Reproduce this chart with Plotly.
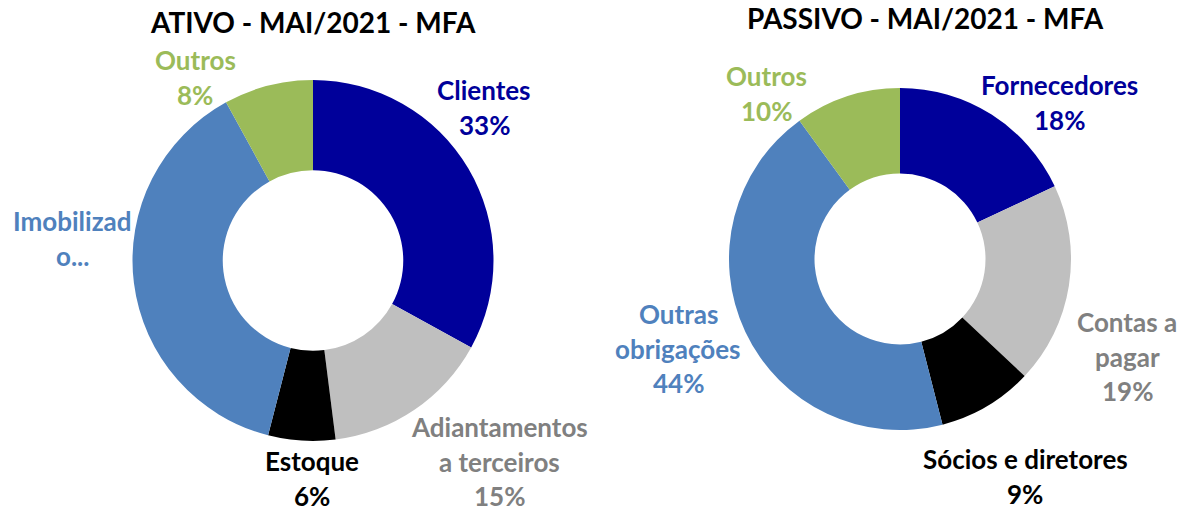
import plotly.graph_objects as go

# ---- data ----
ativo_labels = ["Clientes", "Adiantamentos a terceiros", "Estoque", "Imobilizado", "Outros"]
ativo_values = [33, 15, 6, 38, 8]
ativo_text = [["Clientes", "33%"], ["Adiantamentos", "a terceiros", "15%"], ["Estoque", "6%"],
              ["Imobilizad", "o..."], ["Outros", "8%"]]

passivo_labels = ["Fornecedores", "Contas a pagar", "Sócios e diretores", "Outras obrigações", "Outros"]
passivo_values = [18, 19, 9, 44, 10]
passivo_text = [["Fornecedores", "18%"], ["Contas a", "pagar", "19%"], ["Sócios e diretores", "9%"],
                ["Outras", "obrigações", "44%"], ["Outros", "10%"]]

titles = ["ATIVO - MAI/2021 - MFA", "PASSIVO - MAI/2021 - MFA"]

# ---- styles / layout ----
W, H = 1187, 514
OFF = 0  # page body margin removed via post_script
slice_colors = ["#00009A", "#BFBFBF", "#000000", "#4F81BD", "#9BBB59"]
text_colors = ["#00009A", "#808080", "#000000", "#4F81BD", "#9BBB59"]
FONT = "Lato"
LINE = 34.5

# label anchor (center x, first-line y) in reference pixels
ativo_pos = [(484, 90), (500, 427), (312, 461), (72, 221), (195, 60)]
passivo_pos = [(1059, 85), (1127, 322), (1025, 459), (678, 314), (766, 76)]
title_pos = [(313, 22), (925, 18)]

def px(x, y):
    return (x - OFF) / W, 1 - (y - OFF) / H

fig = go.Figure()

# pies with domains in reference pixels: (left, right, top, bottom)
doms = [(132, 494, 80, 441), (729, 1071, 88, 430)]
for vals, labs, d in zip([ativo_values, passivo_values], [ativo_labels, passivo_labels], doms):
    x0, y0 = px(d[0], d[3])
    x1, y1 = px(d[1], d[2])
    fig.add_trace(go.Pie(
        labels=labs, values=vals, hole=0.5, sort=False, direction="clockwise", rotation=0,
        marker=dict(colors=slice_colors, line=dict(width=0)),
        textinfo="none", showlegend=False, hoverinfo="label+percent",
        domain=dict(x=[x0, x1], y=[y0, y1]),
    ))

annotations = []
for texts, poss in [(ativo_text, ativo_pos), (passivo_text, passivo_pos)]:
    for i, (lines, (x, y)) in enumerate(zip(texts, poss)):
        for k, line in enumerate(lines):
            ax, ay = px(x, y + k * LINE)
            annotations.append(dict(
                text=f"<b>{line}</b>", x=ax, y=ay, xref="paper", yref="paper",
                xanchor="center", yanchor="middle", showarrow=False,
                font=dict(family=FONT, size=26, color=text_colors[i])))

for t, (x, y) in zip(titles, title_pos):
    ax, ay = px(x, y)
    annotations.append(dict(text=f"<b>{t}</b>", x=ax, y=ay, xref="paper", yref="paper",
                            xanchor="center", yanchor="middle", showarrow=False,
                            font=dict(family=FONT, size=28, color="#000000")))

fig.update_layout(
    width=W, height=H, margin=dict(l=0, r=0, t=0, b=0),
    paper_bgcolor="white", plot_bgcolor="white",
    annotations=annotations,
)

fig.write_html("out.html", config={"displayModeBar": False},
               post_script="document.body.style.margin='0';")
